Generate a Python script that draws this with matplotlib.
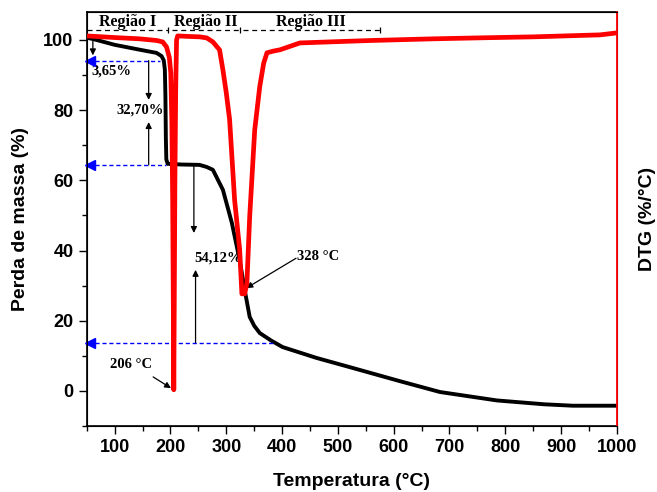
import matplotlib.pyplot as plt

# TG curve (mass, %)
tg_temp = [50, 60, 100, 145, 175, 184, 188, 190, 191, 191.8, 192.6, 195, 220, 252,
           265, 276, 294, 310, 324, 333, 342, 350, 360, 380, 401, 462, 521, 611,
           683, 785, 870, 921, 1000]
tg_mass = [100.6, 100.3, 98.6, 97.2, 96.3, 95.4, 94.2, 91.5, 84, 72, 66.0, 64.7, 64.5, 64.4,
           63.8, 63.0, 57.3, 47.9, 37.3, 28.8, 21.1, 18.6, 16.5, 14.4, 12.5, 9.4, 6.8, 2.8,
           -0.3, -2.7, -3.8, -4.2, -4.2]

# DTG curve (%/°C)
dtg_temp = [50, 100, 145, 175, 186, 193, 198, 200.6, 202.5, 204, 205.2, 206, 206.8, 208,
            209.5, 211, 213, 230, 252.6, 265, 276, 288, 294, 300, 306, 315, 324, 328,
            333, 337, 342, 351, 360, 367, 373, 385, 396, 432, 486, 560, 670, 760, 850,
            970, 1000]
dtg_val = [0.034, 0.02, 0.009, -0.005, -0.017, -0.06, -0.15, -0.28, -0.7, -1.37, -2.3, -2.99, -2.3, -1.2,
           -0.4, 0.0, 0.034, 0.03, 0.026, 0.017, -0.017, -0.085, -0.256, -0.45, -0.68, -1.37, -1.79, -2.17,
           -2.17, -2.08, -1.51, -0.77, -0.40, -0.2, -0.11, -0.095, -0.085, -0.026, -0.017, -0.005, 0.009, 0.018, 0.026,
           0.043, 0.06]

# annotation levels
loss_levels = [94.1, 64.4, 13.7]
loss_starts = [181, 192, 387]
region_names = ["Região I", "Região II", "Região III"]
region_spans = [(50, 195), (202, 324), (330, 575)]

serif = ["Liberation Serif", "DejaVu Serif"]
sans = ["Liberation Sans", "DejaVu Sans"]

fig = plt.figure(figsize=(6.57, 4.92), dpi=100)
ax = fig.add_axes([0.132, 0.134, 0.807, 0.842])
ax2 = ax.twinx()

ax.plot(tg_temp, tg_mass, color="black", lw=2.8, solid_capstyle="round", zorder=3)
ax2.plot(dtg_temp, dtg_val, color="#ff0000", lw=3.4, solid_joinstyle="round", zorder=3)

ax.set_xlim(50, 1000)
ax.set_ylim(-10, 108)
ax2.set_ylim(-3.3, 0.24)

ax.set_xticks(range(100, 1001, 100))
ax.set_xticks(range(50, 1001, 50), minor=True)
ax.set_yticks(range(0, 101, 20))
ax.set_yticks(range(-10, 101, 10), minor=True)
ax.tick_params(which="major", direction="out", length=6, width=1, top=False)
ax.tick_params(which="minor", direction="out", length=3.5, width=1, top=False)
for lab in ax.get_xticklabels() + ax.get_yticklabels():
    lab.set_fontfamily(sans)
    lab.set_fontweight("bold")
    lab.set_fontsize(13)

ax2.tick_params(right=False, labelright=False)
ax2.spines["right"].set_color("#ff0000")
ax2.spines["right"].set_linewidth(1.3)
for s in ["left", "bottom", "top"]:
    ax.spines[s].set_linewidth(1.2)

ax.set_xlabel("Temperatura (°C)", fontfamily=sans, fontweight="bold", fontsize=14, labelpad=12)
ax.set_ylabel("Perda de massa (%)", fontfamily=sans, fontweight="bold", fontsize=14, labelpad=10)
ax2.set_ylabel("DTG (%/°C)", fontfamily=sans, fontweight="bold", fontsize=14, labelpad=16)

# region markers on top
for name, (a, b) in zip(region_names, region_spans):
    ax.plot([a, b], [102.8, 102.8], color="black", lw=0.9, ls=(0, (4, 3)), zorder=4)
    ax.plot([b], [102.8], marker="|", color="black", ms=4, mew=0.9, zorder=4)
    ax.text((a + b) / 2, 105.2, name, fontfamily=serif, fontweight="bold", fontsize=11.5,
            ha="center", va="center")

# blue dashed level lines
for lvl, start in zip(loss_levels, loss_starts):
    ax.plot([53, start], [lvl, lvl], color="#0000ff", lw=1.0, ls=(0, (3, 2)), zorder=4)
    ax.plot([55], [lvl], marker="<", color="#0000ff", ms=7, zorder=5, clip_on=False)

arrow = dict(arrowstyle="-|>", color="black", lw=0.9, mutation_scale=9, shrinkA=0, shrinkB=0)
ax.annotate("", xy=(61, 95.6), xytext=(61, 100.2), arrowprops=arrow)
ax.annotate("", xy=(161, 82.9), xytext=(161, 94.1), arrowprops=arrow)
ax.annotate("", xy=(161, 76.6), xytext=(161, 64.4), arrowprops=arrow)
ax.annotate("", xy=(242, 45), xytext=(242, 64.4), arrowprops=arrow)
ax.annotate("", xy=(245, 34.5), xytext=(245, 13.7), arrowprops=arrow)
ax.annotate("", xy=(336, 29.3), xytext=(425, 37.8), arrowprops=arrow)
ax.annotate("", xy=(201, 0.8), xytext=(169, 4.0), arrowprops=arrow)

tfont = dict(fontfamily=serif, fontweight="bold", fontsize=10.5)
ax.text(59, 91.0, "3,65%", ha="left", va="center", **tfont)
ax.text(145, 80.0, "32,70%", ha="center", va="center", **tfont)
ax.text(243, 38.0, "54,12%", ha="left", va="center", **tfont)
ax.text(427, 38.2, "328 °C", ha="left", va="center", **tfont)
ax.text(91, 7.6, "206 °C", ha="left", va="center", **tfont)

fig.savefig("out.png", dpi=100)
